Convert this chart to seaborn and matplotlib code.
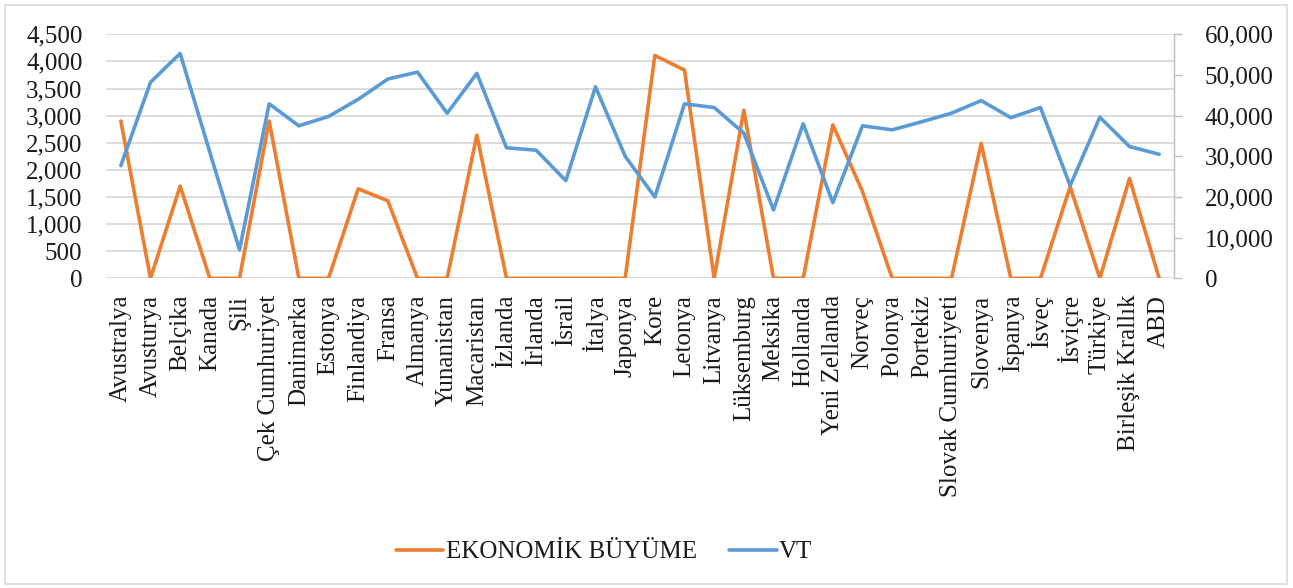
import matplotlib
matplotlib.use("Agg")
import numpy as np
import pandas as pd
import matplotlib.pyplot as plt
import seaborn as sns
from matplotlib.patches import Rectangle
from matplotlib.lines import Line2D
from matplotlib.ticker import FuncFormatter, MultipleLocator

# OECD countries
countries = [
    "Avustralya", "Avusturya", "Belçika", "Kanada", "Şili", "Çek Cumhuriyet",
    "Danimarka", "Estonya", "Finlandiya", "Fransa", "Almanya", "Yunanistan",
    "Macaristan", "İzlanda", "İrlanda", "İsrail", "İtalya", "Japonya", "Kore",
    "Letonya", "Litvanya", "Lüksemburg", "Meksika", "Hollanda", "Yeni Zellanda",
    "Norveç", "Polonya", "Portekiz", "Slovak Cumhuriyeti", "Slovenya", "İspanya",
    "İsveç", "İsviçre", "Türkiye", "Birleşik Krallık", "ABD",
]

# Economic growth (left axis)
ekonomik_buyume = [
    2900, 0, 1700, 0, 0, 2900, 0, 0, 1650, 1430, 0, 0,
    2640, 0, 0, 0, 0, 0, 4110, 3840, 0, 3100, 0, 0, 2830,
    1600, 0, 0, 0, 2490, 0, 0, 1690, 0, 1840, 0,
]

# VT (right axis)
vt = [
    27700, 48200, 55300, 31000, 7000, 42900, 37500, 39800, 44000, 49000,
    50700, 40600, 50400, 32100, 31500, 24000, 47100, 30000, 20000, 42900,
    42000, 35700, 16800, 38000, 18600, 37500, 36500, 38500, 40600, 43700,
    39500, 42000, 22800, 39600, 32400, 30500,
]

left_ticks = list(range(0, 4501, 500))
right_ticks = list(range(0, 60001, 10000))

series_names = ["EKONOMİK BÜYÜME", "VT"]
orange = "#ED7D31"
blue = "#5B9BD5"
text_color = "#1a1a1a"

sns.set_theme(style="white")
plt.rcParams["font.family"] = ["Liberation Serif", "DejaVu Serif"]
plt.rcParams["text.color"] = text_color
plt.rcParams["xtick.color"] = text_color
plt.rcParams["ytick.color"] = text_color

df = pd.DataFrame({
    "pos": np.arange(len(countries)),
    "ulke": countries,
    "eb": ekonomik_buyume,
    "vt": vt,
})

W, H = 1293, 588
fig = plt.figure(figsize=(W / 100, H / 100), dpi=100)
fig.patch.set_facecolor("white")

x0, x1 = 106, 1174
y0, y1 = 34.3, 278.3
ax = fig.add_axes([x0 / W, 1 - y1 / H, (x1 - x0) / W, (y1 - y0) / H])
ax2 = ax.twinx()

sns.lineplot(data=df, x="pos", y="eb", ax=ax, color=orange, linewidth=2.6,
             legend=False)
sns.lineplot(data=df, x="pos", y="vt", ax=ax2, color=blue, linewidth=2.6,
             legend=False)

fs = 18

# primary axis
ax.set_xlim(-0.5, len(countries) - 0.5)
ax.set_ylim(0, 4500)
ax.set_yticks(left_ticks)
ax.yaxis.set_major_formatter(FuncFormatter(lambda v, p: f"{v:,.0f}"))
ax.set_xticks(df["pos"])
ax.set_xticklabels(countries, rotation=90, fontsize=fs, va="top", ha="center")
ax.tick_params(axis="x", length=0, pad=12)
ax.tick_params(axis="y", length=0, pad=17, labelsize=fs)
ax.set_xlabel("")
ax.set_ylabel("")
ax.grid(axis="y", color="#D9D9D9", linewidth=1.3)
ax.grid(axis="x", visible=False)
for s in ax.spines.values():
    s.set_visible(False)

# secondary axis
ax2.set_ylim(0, 60000)
ax2.set_yticks(right_ticks)
ax2.yaxis.set_major_formatter(FuncFormatter(lambda v, p: f"{v:,.0f}"))
ax2.tick_params(axis="y", length=6, width=1, color="#BFBFBF", pad=16,
                labelsize=fs, direction="out")
ax2.set_ylabel("")
ax2.grid(False)
for name, s in ax2.spines.items():
    s.set_visible(name == "right")
ax2.spines["right"].set_color("#BFBFBF")
ax2.spines["right"].set_linewidth(1)

# legend below the chart
handles = [Line2D([], [], color=orange, linewidth=2.6),
           Line2D([], [], color=blue, linewidth=2.6)]
fig.legend(handles, series_names, loc="center",
           bbox_to_anchor=(604 / W, 1 - 552 / H), ncol=2, frameon=False,
           fontsize=fs, handlelength=1.9, handletextpad=0.1,
           columnspacing=1.3)

# chart-area border
fig.patches.append(Rectangle((5 / W, 1 - 584 / H), (1287 - 5) / W,
                             (584 - 5) / H, transform=fig.transFigure,
                             fill=False, edgecolor="#D9D9D9", linewidth=1.2))

fig.savefig("out.png", dpi=100)
